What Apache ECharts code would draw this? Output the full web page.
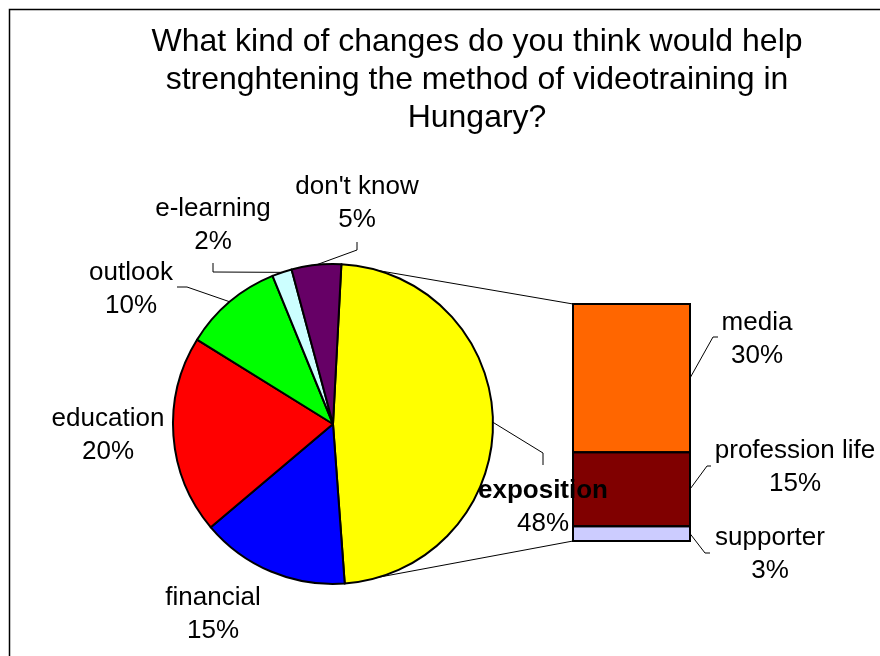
<!DOCTYPE html>
<html>
<head>
<meta charset="utf-8">
<script src="https://cdn.jsdelivr.net/npm/echarts@6/dist/echarts.min.js"></script>
<style>
  html, body { margin: 0; padding: 0; background: #ffffff; }
  #chart { width: 880px; height: 656px; }
</style>
</head>
<body>
<div id="chart"></div>
<script>
// Answers to the survey question, in percent
const pieNames = ['exposition', 'financial', 'education', 'outlook', 'e-learning', "don't know"];
const pieValues = [48, 15, 20, 10, 2, 5];

// Break-down of the "exposition" answers (bottom to top of the column)
const barNames = ['supporter', 'profession life', 'media'];
const barValues = [3, 15, 30];

const titleLines = [
  'What kind of changes do you think would help',
  'strenghtening the method of videotraining in',
  'Hungary?'
];

// ---- styling / layout ----
const FONT = '"Liberation Sans", Arial, Helvetica, sans-serif';
const pieColors = ['#FFFF00', '#0000FF', '#FF0000', '#00FF00', '#CCFFFF', '#660066'];
const barColors = ['#CCCCFF', '#800000', '#FF6600'];

// Centre of each label block and the bends of its leader line
const labelSpots = {
  'exposition':      { x: 543, y: 507, bend: [[543, 453], [543, 465]] },
  'financial':       { x: 213, y: 614 },
  'education':       { x: 108, y: 435 },
  'outlook':         { x: 131, y: 289, bend: [[187, 287], [177, 287]] },
  'e-learning':      { x: 213, y: 225, bend: [[213, 272], [213, 263]] },
  "don't know":      { x: 357, y: 203, bend: [[357, 250], [357, 242]] },
  'media':           { x: 757, y: 339, bend: [[713, 337], [718, 337]] },
  'profession life': { x: 795, y: 467, bend: [[707, 466], [711, 466]] },
  'supporter':       { x: 770, y: 554, bend: [[705, 553], [710, 553]] }
};

const baseText = { fontFamily: FONT, fontSize: 26, lineHeight: 33, color: '#000' };
const leaderStyle = { color: '#000', width: 1 };

function placeLabel(name, startPoint) {
  const s = labelSpots[name];
  const out = { x: s.x, y: s.y, align: 'center', verticalAlign: 'middle' };
  if (s.bend && startPoint) {
    out.labelLinePoints = [startPoint].concat(s.bend);
  }
  return out;
}

const chart = echarts.init(document.getElementById('chart'), null, { renderer: 'canvas' });

const barSeries = barNames.map(function (name, i) {
  return {
    type: 'bar',
    name: name,
    stack: 'exposition',
    data: [barValues[i]],
    barWidth: '100%',
    z: 2,
    itemStyle: { color: barColors[i], borderWidth: 0 },
    label: Object.assign({ show: true, position: 'right', formatter: '{a}\n{c}%' }, baseText),
    labelLayout: function () { return placeLabel(name, null); },
    emphasis: { disabled: true }
  };
});

const pieSeries = {
  type: 'pie',
  name: 'changes',
  center: [333, 424],
  radius: 160,
  startAngle: 87,
  clockwise: true,
  avoidLabelOverlap: false,
  z: 4,
  data: pieNames.map(function (name, i) {
    const item = {
      name: name,
      value: pieValues[i],
      itemStyle: { color: pieColors[i] }
    };
    if (!labelSpots[name].bend) item.labelLine = { show: false };
    return item;
  }),
  itemStyle: { borderColor: '#000', borderWidth: 2 },
  label: Object.assign({
    show: true,
    position: 'outside',
    formatter: function (p) {
      if (p.name === 'exposition') {
        return '{b|' + p.name + '}\n{n|' + p.value + '%}';
      }
      return p.name + '\n' + p.value + '%';
    },
    rich: {
      b: Object.assign({}, baseText, { fontWeight: 'bold' }),
      n: Object.assign({}, baseText)
    }
  }, baseText),
  labelLine: { show: true, length: 10, length2: 10, lineStyle: leaderStyle },
  labelLayout: function (p) {
    const name = pieNames[p.dataIndex];
    const pts = p.labelLinePoints;
    return placeLabel(name, pts ? pts[0] : null);
  },
  emphasis: { disabled: true }
};

chart.setOption({
  backgroundColor: '#ffffff',
  animation: false,
  title: {
    text: titleLines.join('\n'),
    left: 472,
    top: 18,
    textAlign: 'center',
    textStyle: { fontFamily: FONT, fontSize: 32, fontWeight: 'normal', lineHeight: 38, color: '#000' }
  },
  grid: { left: 573, top: 304, width: 117, height: 237, show: false },
  xAxis: { type: 'category', data: ['exposition'], show: false },
  yAxis: { type: 'value', min: 0, max: 48, show: false },
  series: barSeries.concat([pieSeries]),
  graphic: [{
    id: 'frame',
    type: 'rect',
    shape: { x: 9.5, y: 9.5, width: 900, height: 700 },
    style: { fill: null, stroke: '#000', lineWidth: 1.5 },
    silent: true,
    z: 0
  }]
});

// Outlines, leader lines and the lines joining the "exposition" slice to the column
(function drawExtras() {
  const model = chart.getModel();
  const pieData = model.getSeriesByIndex(barSeries.length).getData();
  const sl = pieData.getItemLayout(0);
  const pStart = [sl.cx + sl.r * Math.cos(sl.startAngle), sl.cy + sl.r * Math.sin(sl.startAngle)];
  const pEnd = [sl.cx + sl.r * Math.cos(sl.endAngle), sl.cy + sl.r * Math.sin(sl.endAngle)];

  const rects = barSeries.map(function (s, i) {
    const l = model.getSeriesByIndex(i).getData().getItemLayout(0);
    return {
      x: Math.min(l.x, l.x + l.width),
      y: Math.min(l.y, l.y + l.height),
      w: Math.abs(l.width),
      h: Math.abs(l.height)
    };
  });

  const items = [];
  rects.forEach(function (r, i) {
    items.push({
      id: 'outline' + i, type: 'rect', silent: true, z: 3,
      shape: { x: r.x, y: r.y, width: r.w, height: r.h },
      style: { fill: null, stroke: '#000', lineWidth: 2 }
    });
    const bend = labelSpots[barNames[i]].bend;
    items.push({
      id: 'leader' + i, type: 'polyline', silent: true, z: 3,
      shape: { points: [[r.x + r.w, r.y + r.h / 2]].concat(bend) },
      style: { fill: null, stroke: '#000', lineWidth: 1 }
    });
  });

  const top = rects[rects.length - 1];
  const bottom = rects[0];
  items.push({
    id: 'linkTop', type: 'line', silent: true, z: 1,
    shape: { x1: pStart[0], y1: pStart[1], x2: top.x, y2: top.y },
    style: { stroke: '#000', lineWidth: 1 }
  });
  items.push({
    id: 'linkBottom', type: 'line', silent: true, z: 1,
    shape: { x1: pEnd[0], y1: pEnd[1], x2: bottom.x, y2: bottom.y + bottom.h },
    style: { stroke: '#000', lineWidth: 1 }
  });

  chart.setOption({ graphic: items });
})();
</script>
</body>
</html>
